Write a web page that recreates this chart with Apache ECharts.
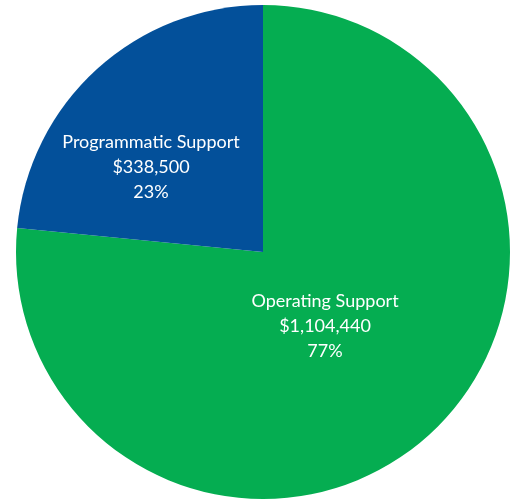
<!DOCTYPE html>
<html>
<head>
<meta charset="utf-8">
<script src="https://cdn.jsdelivr.net/npm/echarts@6/dist/echarts.min.js"></script>
<style>html,body{margin:0;padding:0;background:#fff;}#c{width:512px;height:499px;}</style>
</head>
<body>
<div id="c"></div>
<script>
var categories = ['Operating Support', 'Programmatic Support'];
var values = [1104440, 338500];
var colors = ['#05AD51', '#03509A'];
var labelShift = [[-23, -19], [-27, 9]];

var chart = echarts.init(document.getElementById('c'), null, {renderer: 'canvas'});
chart.setOption({
  animation: false,
  series: [{
    type: 'pie',
    center: [263, 252],
    radius: 247,
    startAngle: 90,
    clockwise: true,
    percentPrecision: 0,
    avoidLabelOverlap: false,
    emphasis: {disabled: true},
    itemStyle: {borderWidth: 0},
    label: {
      show: true,
      position: 'inside',
      color: '#ffffff',
      fontFamily: 'Lato',
      fontSize: 18,
      lineHeight: 25,
      formatter: function (p) {
        return p.name + '\n$' + p.value.toLocaleString('en-US') + '\n' + p.percent + '%';
      }
    },
    labelLayout: function (p) {
      return {dx: labelShift[p.dataIndex][0], dy: labelShift[p.dataIndex][1]};
    },
    data: categories.map(function (c, i) {
      return {name: c, value: values[i], itemStyle: {color: colors[i]}};
    })
  }]
});
</script>
</body>
</html>
